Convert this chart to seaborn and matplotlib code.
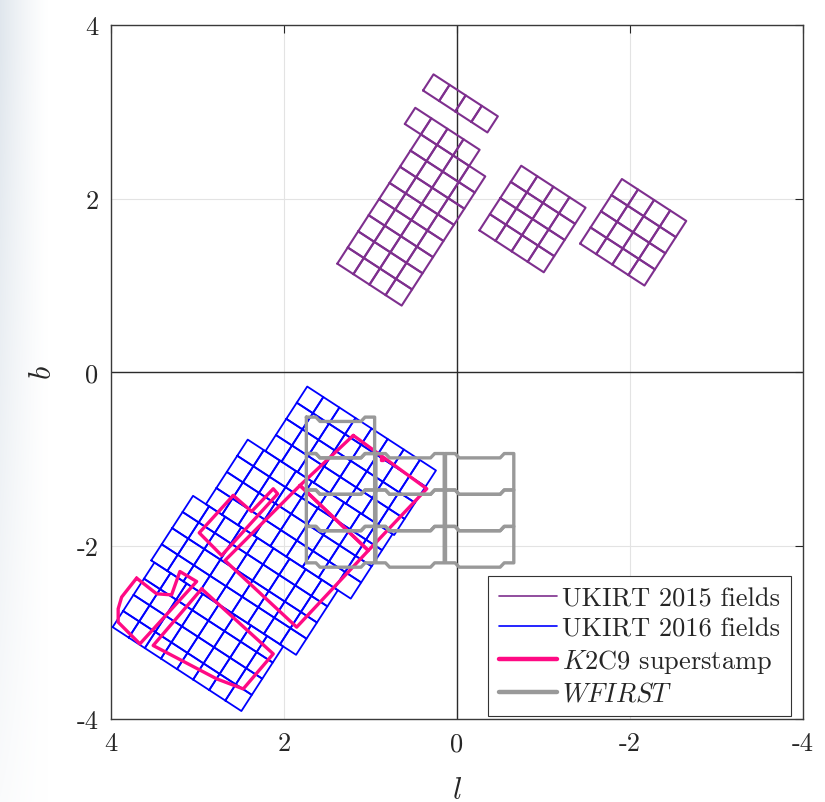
import numpy as np
import pandas as pd
import matplotlib
matplotlib.use("Agg")
import matplotlib.pyplot as plt
import seaborn as sns
from matplotlib.lines import Line2D

# ---------------------------------------------------------------- data
# UKIRT tiles: square tiles on a grid rotated by THETA (deg) in (l, b)
TILE = 0.222
THETA = 33.0

# UKIRT 2015 fields: corner (l, b) of tile (0, 0) and row layout
u15_corner_l = [1.382, 0.390, -0.262, -1.427]
u15_corner_b = [1.249, 3.245, 1.633, 1.480]
u15_row_start = [[0, 0, 0, 0, 0, 0, 0, 0, -1], [0], [0, 0, 0, 0], [0, 0, 0, 0]]
u15_row_len = [[4, 4, 4, 4, 4, 4, 4, 4, 4], [4], [4, 4, 4, 4], [4, 4, 4, 4]]

# UKIRT 2016 fields: bands of four tile rows
u16_corner_l = 3.981
u16_corner_b = -2.941
u16_band_v0 = [0, 4, 8, 12]
u16_band_u0 = [0.0, -0.2, 0.6, 1.7]
u16_band_len = [8, 9, 9, 8]
u16_band_rows = [4, 4, 4, 4]

# K2C9 superstamp outlines (l, b)
k2_l = [
    [1.197, 0.347, 1.023, 1.814, 1.197],
    [1.814, 1.023, 1.852, 2.682, 1.814],
    [2.586, 2.373, 2.123, 2.072, 2.720, 2.979, 2.586],
    [3.704, 3.472, 3.299, 3.203, 3.009, 3.666, 3.917, 3.917, 3.877, 3.704],
    [2.951, 2.123, 2.470, 2.778, 3.512, 2.951],
    [0.880, 0.855, 0.855, 0.880, 0.880],
]
k2_b = [
    [-0.731, -1.346, -2.058, -1.308, -0.731],
    [-1.308, -2.058, -2.941, -2.173, -1.308],
    [-1.423, -1.608, -1.346, -1.404, -2.115, -1.854, -1.423],
    [-2.376, -2.557, -2.569, -2.300, -2.415, -3.134, -2.884, -2.730, -2.595, -2.376],
    [-2.500, -3.249, -3.653, -3.537, -3.153, -2.500],
    [-0.990, -0.990, -1.012, -1.012, -0.990],
]

# WFIRST fields: left edge l and top edge b of each field
wf_left_l = [1.74, 1.74, 1.74, 1.74, 0.935, 0.935, 0.935, 0.13, 0.13, 0.13]
wf_top_b = [-0.52, -0.94, -1.36, -1.78, -0.94, -1.36, -1.78, -0.94, -1.36, -1.78]
WF_W = 0.79
WF_H = 0.42
# stepped edge profile across the field (fraction of width, depth in deg)
wf_prof_x = [0.0, 0.14, 0.20, 0.80, 0.86, 1.0]
wf_prof_d = [0.0, 0.0, 0.05, 0.05, 0.0, 0.0]

legend_labels = ["UKIRT 2015 fields", "UKIRT 2016 fields",
                 "$K2$C9 superstamp", "$WFIRST$"]
c_2015, c_2016, c_k2, c_wf = "#7E2F8E", "#0000FF", "#FF0A84", "#999999"


# ---------------------------------------------------------------- geometry
def tile_rows(ol, ob, u, v):
    th = np.deg2rad(THETA)
    U = np.array([-np.cos(th), -np.sin(th)])
    V = np.array([-np.sin(th), np.cos(th)])
    pts = [(u, v), (u + 1, v), (u + 1, v + 1), (u, v + 1), (u, v)]
    return [(ol + TILE * (a * U[0] + c * V[0]), ob + TILE * (a * U[1] + c * V[1]))
            for a, c in pts]


recs = []
tid = 0
for ol, ob, starts, lens in zip(u15_corner_l, u15_corner_b, u15_row_start, u15_row_len):
    for v, (s0, n) in enumerate(zip(starts, lens)):
        for k in range(n):
            for l_, b_ in tile_rows(ol, ob, s0 + k, v):
                recs.append(("u15", tid, l_, b_))
            tid += 1
for v0, u0, n, nr in zip(u16_band_v0, u16_band_u0, u16_band_len, u16_band_rows):
    for r in range(nr):
        for k in range(n):
            for l_, b_ in tile_rows(u16_corner_l, u16_corner_b, u0 + k, v0 + r):
                recs.append(("u16", tid, l_, b_))
            tid += 1
tiles = pd.DataFrame(recs, columns=["set", "tile", "l", "b"])

k2 = pd.DataFrame([(i, l_, b_) for i, (ls, bs) in enumerate(zip(k2_l, k2_b))
                   for l_, b_ in zip(ls, bs)], columns=["poly", "l", "b"])

wf_recs = []
for i, (l0, b0) in enumerate(zip(wf_left_l, wf_top_b)):
    top = [(l0 - f * WF_W, b0 - d) for f, d in zip(wf_prof_x, wf_prof_d)]
    bot = [(l_, b_ - WF_H) for l_, b_ in top][::-1]
    for l_, b_ in top + bot + [top[0]]:
        wf_recs.append((i, l_, b_))
wf = pd.DataFrame(wf_recs, columns=["field", "l", "b"])

# ---------------------------------------------------------------- figure
sns.set_theme(style="white")
plt.rcParams["font.family"] = ["cmr10", "DejaVu Serif"]
plt.rcParams["mathtext.fontset"] = "cm"
plt.rcParams["axes.unicode_minus"] = False

fig = plt.figure(figsize=(8.25, 8.03), dpi=100)
fig.patch.set_facecolor("white")

# soft backdrop on the left edge of the page
H, W = 803, 825
yy, xx = np.mgrid[0:H, 0:W]
a = np.clip(1 - xx / 48.0, 0, 1) ** 1.3 * np.clip(1.05 - yy / 900.0, 0, 1)
bg = np.ones((H, W, 3))
tint = np.array([0.88, 0.905, 0.93])
bg = bg * (1 - a[..., None]) + tint * a[..., None]
fig.figimage(bg, 0, 0, zorder=-5, origin="upper")

ax = fig.add_axes([111 / 825, 1 - 720 / 803, (802.5 - 111) / 825, (720 - 26) / 803])
ax.set_facecolor("white")

ax.grid(True, color="#e3e3e3", lw=0.8, zorder=0)
ax.axhline(0, color="#2b2b2b", lw=1.0, zorder=1)
ax.axvline(0, color="#2b2b2b", lw=1.0, zorder=1)

sns.lineplot(data=tiles[tiles["set"] == "u15"], x="l", y="b", units="tile",
             estimator=None, sort=False, color=c_2015, lw=1.5, ax=ax, zorder=2)
sns.lineplot(data=tiles[tiles["set"] == "u16"], x="l", y="b", units="tile",
             estimator=None, sort=False, color=c_2016, lw=1.3, ax=ax, zorder=3)
sns.lineplot(data=k2, x="l", y="b", units="poly", estimator=None, sort=False,
             color=c_k2, lw=2.4, ax=ax, zorder=4)
sns.lineplot(data=wf, x="l", y="b", units="field", estimator=None, sort=False,
             color=c_wf, lw=2.4, ax=ax, zorder=5)

ax.set_xlim(4, -4)
ax.set_ylim(-4, 4)
ticks = [4, 2, 0, -2, -4]
ax.set_xticks(ticks)
ax.set_xticklabels([str(t) for t in ticks])
ax.set_yticks(ticks)
ax.set_yticklabels([str(t) for t in ticks])
ax.tick_params(direction="in", length=6, width=0.8, top=True, right=True,
               labelsize=19, colors="#262626", pad=9)
for sp in ax.spines.values():
    sp.set_color("#3a3a3a")
    sp.set_linewidth(1.0)
ax.set_xlabel("$l$", fontsize=22, labelpad=15)
ax.set_ylabel("$b$", fontsize=22, labelpad=14)

handles = [Line2D([], [], color=c_2015, lw=1.2),
           Line2D([], [], color=c_2016, lw=1.2),
           Line2D([], [], color=c_k2, lw=3.2),
           Line2D([], [], color=c_wf, lw=3.2)]
leg = ax.legend(handles, legend_labels, loc="lower right", fontsize=19,
                frameon=True, fancybox=False, framealpha=1, edgecolor="#333333",
                handlelength=2.2, handletextpad=0.2, labelspacing=0.25,
                borderpad=0.4, borderaxespad=0.1, bbox_to_anchor=(0.987, 0.0))
leg.get_frame().set_linewidth(0.8)
leg.set_zorder(10)

fig.savefig("out.png", dpi=100)
